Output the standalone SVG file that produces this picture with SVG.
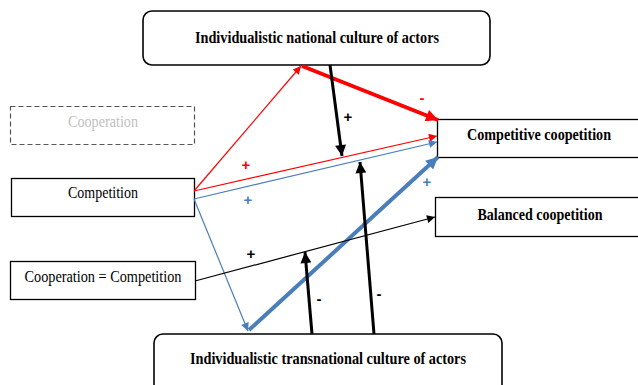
<svg xmlns="http://www.w3.org/2000/svg" width="638" height="385" viewBox="0 0 638 385">
<style>
.box{fill:#fff;stroke:#000;stroke-width:1.3}
.rbox{fill:#fff;stroke:#000;stroke-width:1.6}
.dbox{fill:#fff;stroke:#555;stroke-width:1.2;stroke-dasharray:5 3}
.t{font-family:'Liberation Serif','Times New Roman','DejaVu Serif',serif;font-size:16px;text-anchor:middle;fill:#000}
.b{font-weight:bold}
.g{fill:#bfbfbf}
.lbl{font-family:'Liberation Sans',Arial,sans-serif;font-size:15px;font-weight:bold;text-anchor:middle}
.red{stroke:#ff0000;fill:none}
.blue{stroke:#4a7ebb;fill:none}
.blk{stroke:#000;fill:none}
</style>
<defs>
<marker id="aR" viewBox="0 0 10 10" refX="10" refY="5" markerUnits="userSpaceOnUse" markerWidth="10" markerHeight="8" orient="auto"><path d="M0,0L10,5L0,10z" fill="#ff0000"/></marker>
<marker id="aRT" viewBox="0 0 10 10" refX="10" refY="5" markerUnits="userSpaceOnUse" markerWidth="14" markerHeight="12" orient="auto"><path d="M0,0L10,5L0,10z" fill="#ff0000"/></marker>
<marker id="aB" viewBox="0 0 10 10" refX="10" refY="5" markerUnits="userSpaceOnUse" markerWidth="10" markerHeight="8" orient="auto"><path d="M0,0L10,5L0,10z" fill="#4a7ebb"/></marker>
<marker id="aBT" viewBox="0 0 10 10" refX="10" refY="5" markerUnits="userSpaceOnUse" markerWidth="14" markerHeight="12" orient="auto"><path d="M0,0L10,5L0,10z" fill="#4a7ebb"/></marker>
<marker id="aK" viewBox="0 0 10 10" refX="10" refY="5" markerUnits="userSpaceOnUse" markerWidth="10" markerHeight="8" orient="auto"><path d="M0,0L10,5L0,10z" fill="#000"/></marker>
<marker id="aKT" viewBox="0 0 10 10" refX="10" refY="5" markerUnits="userSpaceOnUse" markerWidth="13" markerHeight="11" orient="auto"><path d="M0,0L10,5L0,10z" fill="#000"/></marker>
</defs>
<rect width="638" height="385" fill="#fff"/>

<g id="national">
<rect class="rbox" x="143" y="11" width="347" height="54" rx="9"/>
<text class="t b" x="317" y="43" textLength="244" lengthAdjust="spacingAndGlyphs">Individualistic national culture of actors</text>
</g>
<g id="cooperation">
<rect class="dbox" x="10.5" y="106.5" width="184" height="38"/>
<text class="t g" x="103" y="127" textLength="70" lengthAdjust="spacingAndGlyphs">Cooperation</text>
</g>
<g id="competition">
<rect class="box" x="11.5" y="178.5" width="183" height="38"/>
<text class="t" x="103" y="198" textLength="70" lengthAdjust="spacingAndGlyphs">Competition</text>
</g>
<g id="equal">
<rect class="box" x="10.5" y="261.5" width="185" height="38"/>
<text class="t" x="103" y="282" textLength="157" lengthAdjust="spacingAndGlyphs">Cooperation = Competition</text>
</g>
<g id="competitive">
<rect class="box" x="437.5" y="119.5" width="205" height="38"/>
<text class="t b" x="539" y="140" textLength="144" lengthAdjust="spacingAndGlyphs">Competitive coopetition</text>
</g>
<g id="balanced">
<rect class="box" x="435.5" y="197.5" width="207" height="39"/>
<text class="t b" x="540" y="220" textLength="125" lengthAdjust="spacingAndGlyphs">Balanced coopetition</text>
</g>
<g id="transnational">
<rect class="rbox" x="154" y="334" width="348" height="64" rx="9"/>
<text class="t b" x="328" y="364" textLength="276" lengthAdjust="spacingAndGlyphs">Individualistic transnational culture of actors</text>
</g>

<g id="connectors">
<line class="red" x1="194" y1="191" x2="301" y2="66" stroke-width="1.2" marker-end="url(#aR)"/>
<line class="red" x1="302" y1="66" x2="438" y2="120" stroke-width="4" marker-end="url(#aRT)"/>
<line class="red" x1="194" y1="191" x2="437" y2="136" stroke-width="1.2" marker-end="url(#aR)"/>
<line class="blue" x1="194" y1="199" x2="437" y2="142" stroke-width="1.2" marker-end="url(#aB)"/>
<line class="blue" x1="194" y1="199" x2="248" y2="331" stroke-width="1.2" marker-end="url(#aB)"/>
<line class="blue" x1="249" y1="330" x2="438" y2="157" stroke-width="4" marker-end="url(#aBT)"/>
<line class="blk" x1="195" y1="281" x2="435" y2="217" stroke-width="1.2" marker-end="url(#aK)"/>
<line class="blk" x1="330" y1="65" x2="342" y2="156" stroke-width="3" marker-end="url(#aKT)"/>
<line class="blk" x1="312" y1="334" x2="305" y2="252" stroke-width="3" marker-end="url(#aKT)"/>
<line class="blk" x1="374" y1="334" x2="360" y2="162" stroke-width="3" marker-end="url(#aKT)"/>
<text class="lbl" x="422" y="103" fill="#ff0000">-</text>
<text class="lbl" x="348" y="122" fill="#000">+</text>
<text class="lbl" x="246" y="170" fill="#ff0000">+</text>
<text class="lbl" x="248" y="205" fill="#4a7ebb">+</text>
<text class="lbl" x="427" y="187" fill="#4a7ebb">+</text>
<text class="lbl" x="251" y="259" fill="#000">+</text>
<text class="lbl" x="319" y="304" fill="#000">-</text>
<text class="lbl" x="379" y="299" fill="#000">-</text>
</g>
</svg>
